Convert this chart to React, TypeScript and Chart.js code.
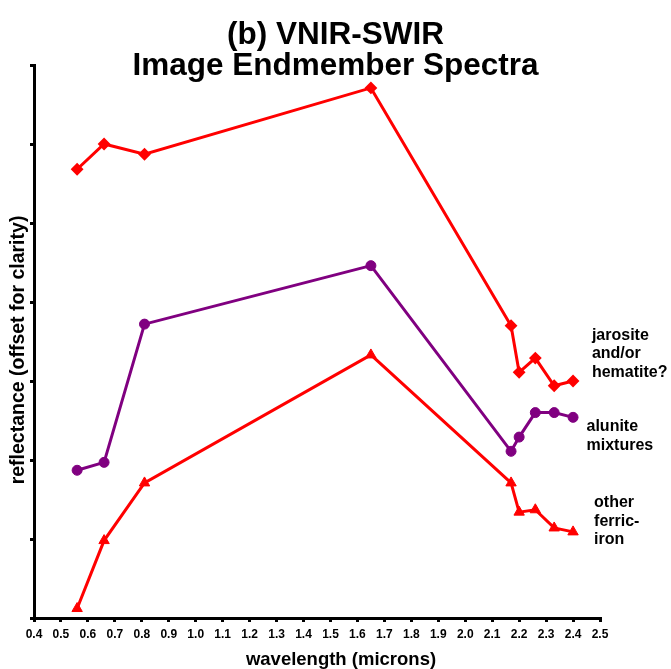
import React, { useEffect, useRef } from 'react';
import { Chart, registerables } from 'chart.js';

Chart.register(...registerables);

const FONT = '"Liberation Sans", Arial, Helvetica, sans-serif';

// wavelength (microns)
const wavelengths = [0.56, 0.66, 0.81, 1.65, 2.17, 2.2, 2.26, 2.33, 2.4];
// reflectance, offset for clarity (arbitrary units, y ticks unlabeled)
const jarositeHematite = [5.68, 6.0, 5.87, 6.71, 3.7, 3.11, 3.29, 2.94, 3.0];
const aluniteMixtures = [1.87, 1.97, 3.72, 4.46, 2.11, 2.29, 2.6, 2.6, 2.54];
const otherFerricIron = [0.12, 0.98, 1.71, 3.33, 1.71, 1.34, 1.37, 1.14, 1.09];

const titleLines = ['(b) VNIR-SWIR', 'Image Endmember Spectra'];
const xAxisTitle = 'wavelength (microns)';
const yAxisTitle = 'reflectance (offset for clarity)';
const xMin = 0.4;
const xMax = 2.5;
const xStep = 0.1;
const yMin = 0;
const yMax = 7;
const yStep = 1;

const seriesLabels = [
  ['jarosite', 'and/or', 'hematite?'],
  ['alunite', 'mixtures'],
  ['other', 'ferric-', 'iron'],
];
const seriesLabelX = [2.47, 2.45, 2.478];
const seriesLabelY = [3.58, 2.42, 1.46];

const RED = '#ff0000';
const PURPLE = '#800080';

const textPlugin = {
  id: 'customTexts',
  afterDraw(chart: any) {
    const { ctx, scales } = chart;
    const xs = scales.x;
    const ys = scales.y;
    ctx.save();
    ctx.fillStyle = '#000';

    // Title
    ctx.font = `bold 31.5px ${FONT}`;
    ctx.textAlign = 'center';
    ctx.textBaseline = 'alphabetic';
    titleLines.forEach((t, i) => ctx.fillText(t, chart.width / 2, 44 + i * 31));

    // X axis title
    ctx.font = `bold 18.5px ${FONT}`;
    ctx.fillText(xAxisTitle, 341, 665);

    // Y axis title
    ctx.save();
    ctx.font = `bold 19.5px ${FONT}`;
    ctx.translate(19, 350);
    ctx.rotate(-Math.PI / 2);
    ctx.textBaseline = 'middle';
    ctx.fillText(yAxisTitle, 0, 0);
    ctx.restore();

    // Series annotations
    ctx.font = `bold 16px ${FONT}`;
    ctx.textAlign = 'left';
    ctx.textBaseline = 'middle';
    seriesLabels.forEach((lines, i) => {
      const px = xs.getPixelForValue(seriesLabelX[i]);
      const py = ys.getPixelForValue(seriesLabelY[i]);
      lines.forEach((l, j) => ctx.fillText(l, px, py + j * 18.7));
    });
    ctx.restore();
  },
};

function makeSeries(values: number[], color: string, style: string, radius: number, bw: number) {
  return {
    data: values.map((v, i) => ({ x: wavelengths[i], y: v })),
    borderColor: color,
    backgroundColor: color,
    borderWidth: 3,
    pointStyle: style,
    pointRadius: radius,
    pointBorderWidth: bw,
    pointBackgroundColor: color,
    pointBorderColor: color,
    tension: 0,
    fill: false,
  };
}

export default function App() {
  const ref = useRef<HTMLCanvasElement | null>(null);

  useEffect(() => {
    if (!ref.current) return;
    const chart = new Chart(ref.current, {
      type: 'line',
      data: {
        datasets: [
          makeSeries(jarositeHematite, RED, 'rectRot', 5, 2) as any,
          makeSeries(aluniteMixtures, PURPLE, 'circle', 5, 1) as any,
          makeSeries(otherFerricIron, RED, 'triangle', 6, 1) as any,
        ],
      },
      options: {
        responsive: false,
        animation: false,
        layout: { padding: { top: 65, right: 71, bottom: 0, left: 0 } },
        plugins: {
          legend: { display: false },
          title: { display: false },
          tooltip: { enabled: false },
        },
        scales: {
          x: {
            type: 'linear',
            min: xMin,
            max: xMax,
            afterFit: (s: any) => {
              s.height = 51;
            },
            border: { display: true, color: '#000', width: 3 },
            grid: {
              display: true,
              drawOnChartArea: false,
              drawTicks: true,
              tickLength: 4,
              color: '#000',
              lineWidth: 3,
            },
            ticks: {
              stepSize: xStep,
              autoSkip: false,
              maxRotation: 0,
              padding: 5,
              color: '#000',
              font: { family: FONT, size: 12, weight: 'bold' },
              callback: (v: any) => Number(v).toFixed(1),
            },
          },
          y: {
            type: 'linear',
            min: yMin,
            max: yMax,
            afterFit: (s: any) => {
              s.width = 34;
            },
            border: { display: true, color: '#000', width: 3 },
            grid: {
              display: true,
              drawOnChartArea: false,
              drawTicks: true,
              tickLength: 4,
              color: '#000',
              lineWidth: 3,
            },
            ticks: { stepSize: yStep, display: false },
          },
        },
      } as any,
      plugins: [textPlugin],
    });
    return () => chart.destroy();
  }, []);

  return (
    <div style={{ position: 'absolute', left: 0, top: 0, width: 671, height: 669, background: '#fff' }}>
      <canvas ref={ref} width={671} height={669} style={{ display: 'block' }} />
    </div>
  );
}
